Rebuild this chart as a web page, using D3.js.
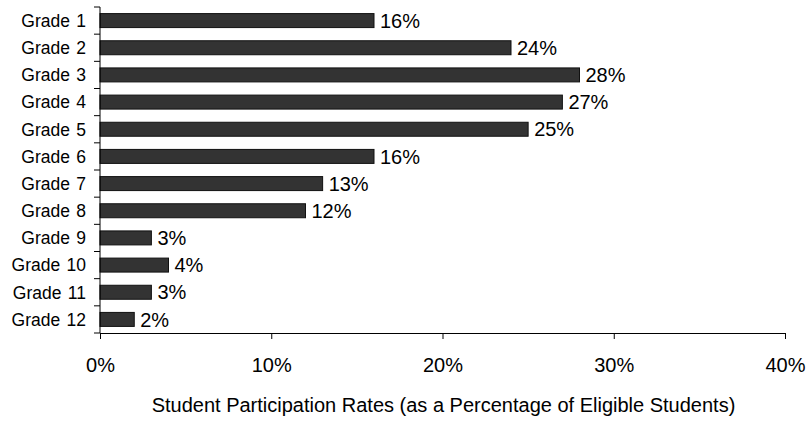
<!DOCTYPE html>
<html>
<head>
<meta charset="utf-8">
<script src="https://cdn.jsdelivr.net/npm/d3@7"></script>
<style>
  html, body { margin: 0; padding: 0; background: #fff; }
  svg { display: block; font-family: "Liberation Sans", Arial, sans-serif; }
</style>
</head>
<body>
<svg id="chart" width="809" height="426"></svg>
<script>
const categories = ["Grade 1","Grade 2","Grade 3","Grade 4","Grade 5","Grade 6","Grade 7","Grade 8","Grade 9","Grade 10","Grade 11","Grade 12"];
const values = [0.16,0.24,0.28,0.27,0.25,0.16,0.13,0.12,0.03,0.04,0.03,0.02];
const xTicks = [0,0.1,0.2,0.3,0.4];
const axisTitle = "Student Participation Rates (as a Percentage of Eligible Students)";

(function () {
const svg = d3.select("#chart");
const mLeft = 100, mRight = 785, mTop = 7, mBottom = 333;

const x = d3.scaleLinear().domain([0, 0.4]).range([mLeft, mRight]);
const y = d3.scaleBand().domain(categories).range([mTop, mBottom]).paddingInner(0.485).paddingOuter(0.2425);
const step = y.step();
const fmt = d3.format(".0%");

// bars
svg.append("g").selectAll("rect").data(values).join("rect")
  .attr("x", x(0))
  .attr("y", (d, i) => y(categories[i]))
  .attr("width", d => x(d) - x(0))
  .attr("height", y.bandwidth())
  .attr("fill", "#333333")
  .attr("stroke", "#111")
  .attr("stroke-width", 1);

// value labels
svg.append("g").selectAll("text").data(values).join("text")
  .attr("x", d => x(d) + 6)
  .attr("y", (d, i) => y(categories[i]) + y.bandwidth() / 2)
  .attr("dy", "0.36em")
  .attr("font-size", 20)
  .attr("fill", "#000")
  .text(d => fmt(d));

// y axis line and boundary ticks
const yg = svg.append("g");
yg.append("line").attr("x1", mLeft).attr("x2", mLeft).attr("y1", mTop).attr("y2", mBottom)
  .attr("stroke", "#000").attr("stroke-width", 1);
const bounds = d3.range(categories.length + 1).map(i => mTop + i * step);
yg.selectAll("line.tk").data(bounds).join("line").attr("class", "tk")
  .attr("x1", mLeft - 6).attr("x2", mLeft).attr("y1", d => d).attr("y2", d => d)
  .attr("stroke", "#000").attr("stroke-width", 1);
yg.selectAll("text").data(categories).join("text")
  .attr("x", 86)
  .attr("y", d => y(d) + y.bandwidth() / 2)
  .attr("dy", "0.36em")
  .attr("text-anchor", "end")
  .attr("font-size", 17.5)
  .attr("word-spacing", 1.5)
  .attr("fill", "#000")
  .text(d => d);

// x axis
const xAxis = d3.axisBottom(x).tickValues(xTicks).tickFormat(fmt).tickSize(6).tickPadding(19).tickSizeOuter(0);
const xg = svg.append("g").attr("transform", `translate(0,${mBottom})`).call(xAxis);
xg.select(".domain").attr("stroke", "#000");
xg.selectAll(".tick line").attr("stroke", "#000");
xg.selectAll(".tick text").attr("font-size", 20).attr("fill", "#000").attr("font-family", "Liberation Sans, Arial, sans-serif");

// axis title
svg.append("text")
  .attr("x", (mLeft + mRight) / 2 + 1)
  .attr("y", 412)
  .attr("text-anchor", "middle")
  .attr("font-size", 20)
  .attr("fill", "#000")
  .text(axisTitle);
})();
</script>
</body>
</html>
